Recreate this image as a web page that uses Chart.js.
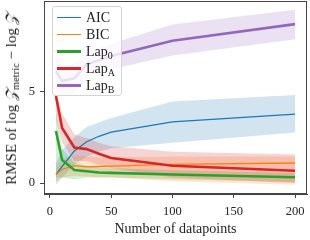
<!DOCTYPE html>
<html>
<head>
<meta charset="utf-8">
<script src="https://cdn.jsdelivr.net/npm/chart.js@4"></script>
<style>
  body { margin: 0; background: #fff; }
  #wrap { position: relative; width: 310px; height: 240px; }
  #ytitle {
    position: absolute; left: 12px; top: 99px; white-space: nowrap;
    font: 15px "Liberation Serif", serif; color: #222;
    transform: translate(-50%, -50%) rotate(-90deg);
  }
  #ytitle sub { font-size: 10.5px; vertical-align: -3px; }
  #legend {
    position: absolute; left: 52px; top: 6px; width: 68px; height: 88px;
    border: 1px solid #d4d4d4; border-radius: 3px; background: rgba(255,255,255,0.8);
    font: 14px "Liberation Serif", serif; color: #222;
  }
  .item { position: absolute; left: 4px; width: 64px; height: 17px; line-height: 17px; }
  .item span.swatch { position: absolute; left: 0; width: 24px; }
  .item span.lab { position: absolute; left: 29px; top: 0; white-space: nowrap; }
  .item sub { font-size: 10px; vertical-align: -3px; line-height: 0; }
</style>
</head>
<body>
<div id="wrap">
  <canvas id="chart" width="310" height="240"></canvas>
  <div id="ytitle">RMSE of log <i>𝒵</i><sub>metric</sub> − log <i>𝒵</i></div>
  <div id="legend"></div>
</div>
<script>
  // x positions (number of datapoints)
  const xVals = [5, 10, 20, 30, 40, 50, 100, 200];
  const xTicks = [0, 50, 100, 150, 200];
  const yTicks = [0, 5];

  // mean RMSE and the shaded spread for each method
  const aicMean = [0.47, 0.9, 1.75, 2.25, 2.55, 2.77, 3.33, 3.76];
  const aicLow = [-0.1, 0.3, 1.0, 1.45, 1.7, 1.9, 2.2, 2.75];
  const aicHigh = [1.1, 1.8, 2.5, 3.05, 3.3, 3.55, 4.45, 4.8];

  const bicMean = [0.47, 0.75, 0.95, 0.88, 0.9, 0.92, 1.02, 1.09];
  const bicLow = [0.1, 0.3, 0.4, 0.35, 0.3, 0.3, 0.1, -0.1];
  const bicHigh = [0.9, 1.3, 1.5, 1.45, 1.4, 1.4, 1.45, 1.45];

  const lap0Mean = [2.84, 1.26, 0.71, 0.64, 0.57, 0.55, 0.46, 0.31];
  const lap0Low = [0.3, 0.3, 0.2, 0.3, 0.3, 0.3, 0.2, 0.05];
  const lap0High = [3.9, 1.9, 1.1, 0.95, 0.85, 0.8, 0.7, 0.55];

  const lapAMean = [4.75, 3.0, 1.94, 1.85, 1.6, 1.36, 0.94, 0.67];
  const lapALow = [3.5, 2.2, 1.2, 1.2, 1.0, 0.8, 0.3, 0.0];
  const lapAHigh = [5.0, 3.8, 2.65, 2.45, 2.2, 2.0, 1.7, 1.55];

  const lapBMean = [6.1, 5.56, 5.71, 6.47, 6.7, 6.93, 7.76, 8.67];
  const lapBLow = [4.9, 4.8, 4.9, 5.8, 6.0, 6.2, 6.95, 7.85];
  const lapBHigh = [7.3, 6.4, 6.5, 7.1, 7.35, 7.6, 8.65, 9.45];

  const series = [
    { label: 'AIC', sub: '', mean: aicMean, lo: aicLow, hi: aicHigh, color: '31,119,180', width: 1.3 },
    { label: 'BIC', sub: '', mean: bicMean, lo: bicLow, hi: bicHigh, color: '255,127,14', width: 1.3 },
    { label: 'Lap', sub: '0', mean: lap0Mean, lo: lap0Low, hi: lap0High, color: '44,160,44', width: 2.6 },
    { label: 'Lap', sub: 'A', mean: lapAMean, lo: lapALow, hi: lapAHigh, color: '214,39,40', width: 2.6 },
    { label: 'Lap', sub: 'B', mean: lapBMean, lo: lapBLow, hi: lapBHigh, color: '148,103,189', width: 2.6 }
  ];

  const pts = arr => arr.map((v, i) => ({ x: xVals[i], y: v }));

  const datasets = [];
  series.forEach((s, i) => {
    // band: lower edge, then upper edge filled down to it
    datasets.push({ data: pts(s.lo), borderWidth: 0, pointRadius: 0, fill: false, order: 20 - i });
    datasets.push({ data: pts(s.hi), borderWidth: 0, pointRadius: 0,
      fill: '-1', backgroundColor: `rgba(${s.color},0.2)`, order: 20 - i });
  });
  series.forEach((s, i) => {
    datasets.push({ label: s.label + s.sub, data: pts(s.mean), borderColor: `rgb(${s.color})`,
      borderWidth: s.width, pointRadius: 0, fill: false, tension: 0, order: 10 - i });
  });

  const frame = {
    id: 'frame',
    afterDraw(chart) {
      const { ctx, chartArea: a } = chart;
      ctx.save();
      ctx.strokeStyle = '#444';
      ctx.lineWidth = 1;
      ctx.strokeRect(Math.round(a.left) + 0.5, Math.round(a.top) + 0.5,
        Math.round(a.right - a.left) - 1, Math.round(a.bottom - a.top) - 1);
      ctx.restore();
    }
  };

  const tickFont = { family: 'Liberation Serif', size: 12.5 };

  new Chart(document.getElementById('chart'), {
    type: 'line',
    data: { datasets },
    options: {
      responsive: false,
      animation: false,
      layout: { padding: { top: 1, right: 3, left: 0, bottom: 0 } },
      plugins: { legend: { display: false }, tooltip: { enabled: false },
        filler: { drawTime: 'beforeDatasetsDraw' } },
      scales: {
        x: {
          type: 'linear', min: -4.75, max: 209.75,
          afterBuildTicks: ax => { ax.ticks = xTicks.map(v => ({ value: v })); },
          afterFit: ax => { ax.height = 46; ax.paddingLeft = 0; ax.paddingRight = 0; },
          grid: { drawOnChartArea: false, tickLength: 4, color: '#444' },
          border: { color: '#444' },
          ticks: { font: tickFont, color: '#222', padding: 6, maxRotation: 0 },
          title: { display: true, text: 'Number of datapoints', font: { family: 'Liberation Serif', size: 14 },
            color: '#222', padding: { top: 0, bottom: 2 } }
        },
        y: {
          min: -0.6, max: 9.93,
          afterBuildTicks: ax => { ax.ticks = yTicks.map(v => ({ value: v })); },
          afterFit: ax => { ax.width = 44; ax.paddingTop = 0; ax.paddingBottom = 0; },
          grid: { drawOnChartArea: false, tickLength: 4, color: '#444' },
          border: { color: '#444' },
          ticks: { font: tickFont, color: '#222', padding: 5 }
        }
      }
    },
    plugins: [frame]
  });

  // legend with subscripts
  const legend = document.getElementById('legend');
  series.forEach((s, i) => {
    const thin = s.width < 2;
    const item = document.createElement('div');
    item.className = 'item';
    item.style.top = (2 + i * 17) + 'px';
    item.innerHTML = `<span class="swatch" style="top:${thin ? 8 : 7}px;height:${thin ? 1 : 3}px;background:rgb(${s.color})"></span>` +
      `<span class="lab">${s.label}${s.sub ? '<sub>' + s.sub + '</sub>' : ''}</span>`;
    legend.appendChild(item);
  });
</script>
</body>
</html>
